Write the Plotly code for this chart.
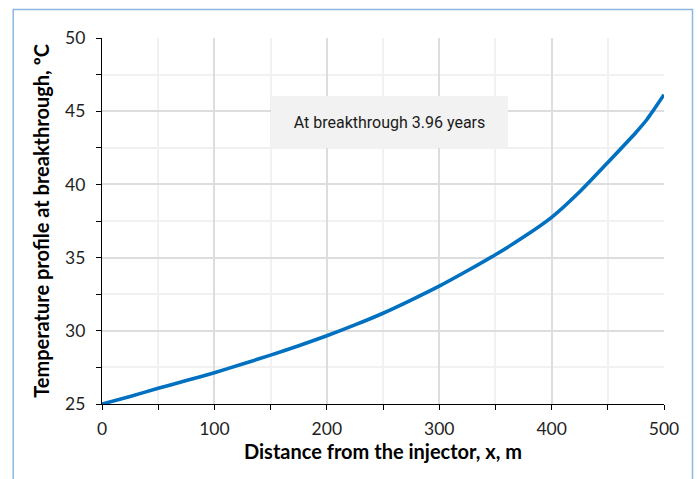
import plotly.graph_objects as go

# Temperature along the flow path at the moment of thermal breakthrough
distance_m = [0, 25, 50, 75, 100, 125, 150, 175, 200, 225, 250, 275, 300,
              325, 350, 375, 400, 425, 450, 475, 485, 490, 500]
temperature_c = [25.0, 25.52, 26.07, 26.6, 27.14, 27.73, 28.34, 28.98, 29.66,
                 30.4, 31.2, 32.1, 33.05, 34.1, 35.2, 36.4, 37.75, 39.5,
                 41.5, 43.55, 44.45, 45.0, 46.13]

x_ticks = [0, 100, 200, 300, 400, 500]
y_ticks = [25, 30, 35, 40, 45, 50]
note_text = "At breakthrough 3.96 years"

FONT = "Lato, Carlito, Calibri, sans-serif"
TEXT = "#1f1f1f"

fig = go.Figure()
fig.add_trace(go.Scatter(
    x=distance_m, y=temperature_c, mode="lines",
    line=dict(color="#0070C0", width=3.6, shape="spline", smoothing=0.7),
    hoverinfo="x+y", showlegend=False,
))

axis_common = dict(
    showline=True, linecolor="black", linewidth=1.2,
    ticks="outside", ticklen=5, tickcolor="black", tickwidth=1.2,
    showgrid=True, gridcolor="#DDDDDD", gridwidth=1.5,
    zeroline=False,
    tickfont=dict(family=FONT, size=17.5, color=TEXT),
)

fig.update_xaxes(
    range=[0, 500], tickvals=x_ticks,
    minor=dict(dtick=50, showgrid=True, gridcolor="#F1F1F1", gridwidth=1.5,
               ticks="outside", ticklen=5, tickcolor="black", tickwidth=1.2),
    title=dict(text="<b>Distance from the injector, x, m</b>",
               font=dict(family=FONT, size=20, color="black"), standoff=6),
    ticklabelstandoff=4,
    **axis_common,
)
fig.update_yaxes(
    range=[25, 50], tickvals=y_ticks,
    minor=dict(dtick=2.5, showgrid=True, gridcolor="#F1F1F1", gridwidth=1.5,
               ticks="outside", ticklen=5, tickcolor="black", tickwidth=1.2),
    title=dict(text="<b>Temperature profile at breakthrough, ºC</b>",
               font=dict(family=FONT, size=20, color="black"), standoff=10),
    ticklabelstandoff=7,
    **axis_common,
)

# Outer frame around the chart area
fig.add_shape(type="rect", xref="paper", yref="paper",
              x0=-0.158, x1=1.0507, y0=-0.3, y1=1.0779,
              line=dict(color="#8DB6E0", width=1.5), fillcolor="rgba(0,0,0,0)",
              layer="below")

fig.add_annotation(
    x=255.8, y=44.26, xref="x", yref="y", text=note_text, showarrow=False,
    font=dict(family="Roboto, sans-serif", size=16, color="#1a1a1a"),
    bgcolor="#F2F2F2", width=237, height=52, borderpad=0, borderwidth=0,
    align="center", valign="middle",
)

fig.update_layout(
    width=698, height=479,
    margin=dict(l=102, r=34, t=38, b=75),
    paper_bgcolor="white", plot_bgcolor="white",
)

fig.write_html("out.html")
